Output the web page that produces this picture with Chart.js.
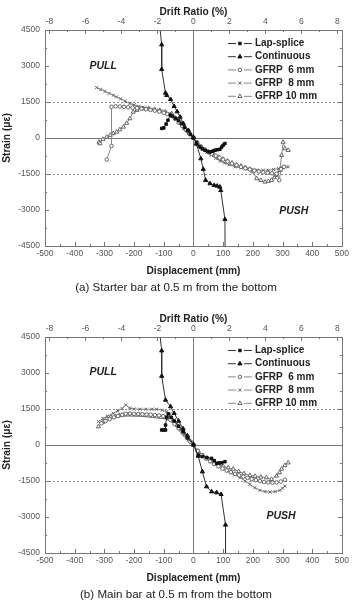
<!DOCTYPE html>
<html>
<head>
<meta charset="utf-8">
<script src="https://cdn.jsdelivr.net/npm/chart.js@4.4.1/dist/chart.umd.min.js"></script>
<style>
  body { margin: 0; background: #fff; font-family: Arial, "Liberation Sans", sans-serif; }
  .panel { position: relative; width: 352px; height: 307px; }
  .panel canvas { position: absolute; left: 0; top: 0; }
  .caption { position: absolute; left: 0; top: 279px; width: 352px; text-align: center;
             font-size: 11.6px; line-height: 15px; color: #222; }
</style>
</head>
<body>
<div class="panel">
  <canvas id="chartA" width="352" height="280"></canvas>
  <div class="caption">(a) Starter bar at 0.5 m from the bottom</div>
</div>
<div class="panel" style="height:306px">
  <canvas id="chartB" width="352" height="280"></canvas>
  <div class="caption">(b) Main bar at 0.5 m from the bottom</div>
</div>
<script>
// series labels
const seriesNames = ['Lap-splice', 'Continuous', 'GFRP  6 mm', 'GFRP  8 mm', 'GFRP 10 mm'];

// axis ticks
const dispTicks = [-500, -400, -300, -200, -100, 0, 100, 200, 300, 400, 500];
const driftTicks = [-8, -6, -4, -2, 0, 2, 4, 6, 8];
const strainTicks = [-4500, -3000, -1500, 0, 1500, 3000, 4500];

// (a) starter bar  -  [displacement mm, strain]
const lapA = [[-107,400],[-100,420],[-92,580],[-86,740],[-78,950],[-70,900],[-60,820],[-50,720],[-40,600],[-30,450],[-20,300],[-10,150],[0,0],
  [10,-200],[22,-370],[30,-450],[39,-510],[48,-560],[56,-580],[64,-550],[72,-510],[80,-490],[89,-470],[95,-380],[100,-300],[106,-230]];
const contA = [[-118,5200],[-107,3890],[-107,2860],[-94,1875],[-90,1780],[-77,1610],[-65,1320],[-55,1100],[-45,875],[-34,600],[-17,320],[0,40],
  [10,-250],[25,-860],[33,-1300],[41,-1760],[56,-1900],[70,-1970],[80,-2000],[89,-2040],[92,-2180],[106,-3390],[107,-6000]];
const g6A = [[-292,-900],[-276,-330],[-276,1300],[-262,1320],[-248,1310],[-234,1300],[-220,1280],[-205,1260],[-190,1240],[-175,1220],[-160,1200],
  [-145,1170],[-130,1140],[-115,1100],[-100,1050],[-88,1000],[-75,930],[-62,800],[-50,650],[-38,500],[-25,330],[-12,160],[0,0],
  [12,-180],[25,-350],[38,-480],[50,-580],[62,-660],[75,-740],[88,-820],[100,-900],[115,-980],[130,-1060],[145,-1130],[160,-1200],
  [175,-1260],[190,-1310],[205,-1360],[220,-1400],[235,-1430],[250,-1450],[265,-1470],[280,-1490],[289,-1760],[295,-1300],[305,-1200]];
const g8A = [[-326,2100],[-312,2020],[-298,1940],[-284,1860],[-270,1780],[-259,1710],[-245,1630],[-230,1540],[-214,1435],[-200,1380],[-185,1320],
  [-170,1280],[-155,1250],[-140,1210],[-125,1170],[-110,1130],[-95,1080],[-80,1020],[-69,950],[-56,800],[-45,650],[-30,420],[-15,200],[0,0],
  [16,-300],[30,-470],[45,-600],[60,-720],[75,-850],[90,-960],[105,-1040],[120,-1110],[140,-1200],[160,-1250],[180,-1290],[196,-1320],
  [215,-1335],[235,-1345],[252,-1345],[270,-1310],[286,-1275],[300,-1240],[319,-1200]];
const g10A = [[-318,-170],[-315,-230],[-305,-50],[-292,40],[-280,120],[-270,190],[-259,250],[-248,350],[-236,460],[-225,620],[-214,810],[-203,1085],
  [-190,1160],[-169,1225],[-150,1210],[-130,1180],[-113,1155],[-95,1090],[-73,1015],[-60,830],[-45,620],[-30,400],[-15,200],[0,0],
  [14,-220],[28,-400],[42,-520],[56,-620],[70,-700],[85,-800],[100,-880],[115,-960],[130,-1040],[145,-1110],[160,-1170],[175,-1230],
  [190,-1300],[200,-1400],[213,-1690],[227,-1760],[241,-1830],[252,-1800],[263,-1760],[272,-1650],[280,-1550],[291,-1345],[297,-720],
  [302,-170],[308,-440],[319,-510]];

// (b) main bar
const lapB = [[-107,625],[-100,625],[-94,625],[-94,830],[-90,1150],[-85,1300],[-75,1150],[-65,1000],[-50,780],[-35,550],[-20,300],[0,0],
  [16,-420],[30,-480],[45,-520],[61,-555],[70,-650],[78,-760],[86,-750],[95,-740],[106,-695]];
const contB = [[-118,5200],[-107,3930],[-107,2870],[-94,1875],[-77,1600],[-65,1320],[-50,1000],[-35,680],[-20,380],[0,30],
  [16,-460],[30,-1110],[44,-1735],[61,-1945],[78,-1985],[93,-2055],[108,-3330],[108,-6000]];
const g6B = [[-310,900],[-296,1000],[-282,1080],[-268,1150],[-254,1210],[-240,1260],[-228,1300],[-214,1310],[-200,1300],[-186,1290],[-172,1280],
  [-158,1270],[-144,1260],[-130,1250],[-116,1230],[-102,1200],[-90,1160],[-78,1050],[-64,880],[-50,700],[-36,500],[-22,300],[-10,140],[0,0],
  [14,-250],[28,-420],[42,-560],[56,-680],[70,-790],[84,-890],[98,-980],[112,-1060],[126,-1130],[140,-1200],[154,-1260],[168,-1320],
  [182,-1370],[196,-1420],[210,-1460],[224,-1500],[238,-1540],[252,-1560],[266,-1570],[280,-1560],[294,-1520],[308,-1450]];
const g8B = [[-320,975],[-305,1100],[-290,1200],[-270,1320],[-255,1420],[-240,1520],[-228,1670],[-215,1540],[-200,1500],[-180,1490],[-160,1490],
  [-140,1490],[-124,1490],[-105,1450],[-90,1390],[-79,1300],[-65,1050],[-50,800],[-35,550],[-20,310],[-8,120],[0,0],
  [14,-240],[28,-420],[42,-560],[56,-690],[70,-800],[84,-900],[98,-990],[112,-1080],[126,-1160],[140,-1240],[157,-1360],[174,-1500],
  [190,-1640],[207,-1780],[224,-1890],[241,-1940],[258,-1960],[275,-1940],[291,-1890],[300,-1800],[308,-1710]];
const g10B = [[-320,765],[-306,950],[-292,1115],[-278,1170],[-264,1200],[-250,1230],[-236,1250],[-222,1255],[-208,1255],[-194,1250],[-180,1250],
  [-166,1235],[-152,1215],[-138,1200],[-124,1180],[-110,1160],[-96,1140],[-82,1100],[-68,1000],[-55,820],[-42,630],[-28,420],[-14,210],[0,0],
  [16,-250],[32,-430],[48,-570],[66,-695],[84,-800],[100,-880],[117,-950],[134,-1000],[152,-1100],[170,-1190],[190,-1265],[208,-1300],
  [227,-1330],[246,-1360],[263,-1430],[280,-1290],[290,-1150],[297,-1000],[308,-850],[319,-740]];

const styles = [
  { pointStyle: 'rect', radius: 1.8, fill: '#111', stroke: '#111', line: '#333' },
  { pointStyle: 'triangle', radius: 2.4, fill: '#111', stroke: '#111', line: '#333' },
  { pointStyle: 'circle', radius: 1.8, fill: '#fff', stroke: '#666', line: '#888' },
  { pointStyle: 'crossRot', radius: 2.2, fill: '#fff', stroke: '#666', line: '#888' },
  { pointStyle: 'triangle', radius: 2.4, fill: '#fff', stroke: '#666', line: '#888' }
];

const toXY = (arr) => arr.map(p => ({ x: p[0], y: p[1] }));

const decor = {
  id: 'decor',
  beforeDatasetsDraw(chart) {
    const { ctx, chartArea: a, scales } = chart;
    ctx.save();
    ctx.strokeStyle = '#8a8a8a';
    ctx.lineWidth = 1;
    ctx.setLineDash([2, 2]);
    [1500, -1500].forEach(v => {
      const y = Math.round(scales.y.getPixelForValue(v)) + 0.5;
      ctx.beginPath(); ctx.moveTo(a.left, y); ctx.lineTo(a.right, y); ctx.stroke();
    });
    ctx.setLineDash([]);
    ctx.strokeStyle = '#777';
    const y0 = Math.round(scales.y.getPixelForValue(0)) + 0.5;
    const x0 = Math.round(scales.x.getPixelForValue(0)) + 0.5;
    ctx.beginPath(); ctx.moveTo(a.left, y0); ctx.lineTo(a.right, y0); ctx.stroke();
    ctx.beginPath(); ctx.moveTo(x0, a.top); ctx.lineTo(x0, a.bottom); ctx.stroke();
    ctx.restore();
  },
  afterDatasetsDraw(chart) {
    const { ctx, chartArea: a, scales } = chart;
    ctx.save();
    ctx.strokeStyle = '#777';
    ctx.lineWidth = 1;
    ctx.strokeRect(Math.round(a.left) + 0.5, Math.round(a.top) + 0.5,
                   Math.round(a.right - a.left), Math.round(a.bottom - a.top));
    ctx.beginPath();
    for (let v = -450; v <= 450; v += 50) {
      const x = Math.round(scales.x.getPixelForValue(v)) + 0.5;
      const len = v % 100 === 0 ? 4 : 2;
      ctx.moveTo(x, a.bottom); ctx.lineTo(x, a.bottom - len);
    }
    for (let v = -8; v <= 8; v += 1) {
      const x = Math.round(scales.x2.getPixelForValue(v)) + 0.5;
      const len = v % 2 === 0 ? 4 : 2;
      ctx.moveTo(x, a.top); ctx.lineTo(x, a.top + len);
    }
    for (let v = -3750; v <= 3750; v += 750) {
      const y = Math.round(scales.y.getPixelForValue(v)) + 0.5;
      const len = v % 1500 === 0 ? 4 : 2;
      ctx.moveTo(a.left, y); ctx.lineTo(a.left + len, y);
      ctx.moveTo(a.right, y); ctx.lineTo(a.right - len, y);
    }
    ctx.stroke();
    ctx.restore();
  },
  afterDraw(chart) {
    const { ctx, chartArea: a, scales } = chart;
    const opts = chart.options.plugins.decor;
    ctx.save();
    // legend
    ctx.font = 'bold 10px Arial, "Liberation Sans", sans-serif';
    ctx.textBaseline = 'middle';
    ctx.textAlign = 'left';
    seriesNames.forEach((name, i) => {
      const st = styles[i];
      const y = a.top + 13.5 + i * 13.2;
      const xm = a.right - 102;
      ctx.strokeStyle = st.line;
      ctx.lineWidth = 1;
      ctx.beginPath(); ctx.moveTo(xm - 12, y); ctx.lineTo(xm - 4, y);
      ctx.moveTo(xm + 4, y); ctx.lineTo(xm + 12, y); ctx.stroke();
      ctx.fillStyle = st.fill; ctx.strokeStyle = st.stroke;
      Chart.helpers.drawPoint(ctx, { pointStyle: st.pointStyle, radius: st.radius, borderWidth: 1, rotation: 0 }, xm, y);
      ctx.fillStyle = '#222';
      ctx.fillText(name, xm + 15, y);
    });
    // PULL / PUSH
    ctx.font = 'italic bold 10.5px Arial, "Liberation Sans", sans-serif';
    ctx.textAlign = 'center';
    ctx.fillStyle = '#222';
    ctx.fillText('PULL', scales.x.getPixelForValue(opts.pull[0]), scales.y.getPixelForValue(opts.pull[1]));
    ctx.fillText('PUSH', scales.x.getPixelForValue(opts.push[0]), scales.y.getPixelForValue(opts.push[1]));
    ctx.restore();
  }
};

const tickFont = { family: 'Arial, "Liberation Sans", sans-serif', size: 8.5 };
const titleFont = { family: 'Arial, "Liberation Sans", sans-serif', size: 10.2, weight: 'bold' };
const plainLabel = (v) => String(v);

function makeChart(id, series, pull, push) {
  const datasets = series.map((s, i) => ({
    label: seriesNames[i],
    data: toXY(s),
    showLine: true,
    borderColor: styles[i].line,
    borderWidth: 1,
    pointStyle: styles[i].pointStyle,
    pointRadius: styles[i].radius,
    pointBackgroundColor: styles[i].fill,
    pointBorderColor: styles[i].stroke,
    pointBorderWidth: 1
  }));
  return new Chart(document.getElementById(id), {
    type: 'scatter',
    data: { datasets },
    plugins: [decor],
    options: {
      responsive: false,
      animation: false,
      devicePixelRatio: 1,
      layout: { padding: { right: 10, left: 0, top: 0, bottom: 0 } },
      plugins: {
        legend: { display: false },
        tooltip: { enabled: false },
        decor: { pull, push }
      },
      scales: {
        x: {
          type: 'linear', position: 'bottom', min: -500, max: 500,
          afterBuildTicks: (sc) => { sc.ticks = dispTicks.map(v => ({ value: v })); },
          afterFit: (sc) => { sc.height = 34; },
          grid: { display: false, drawTicks: false }, border: { display: false },
          ticks: { font: tickFont, color: '#555', padding: 3, maxRotation: 0, callback: plainLabel },
          title: { display: true, text: 'Displacement (mm)', font: titleFont, color: '#222', padding: { top: 0, bottom: 3 } }
        },
        x2: {
          type: 'linear', position: 'top', min: -8.25, max: 8.25,
          afterBuildTicks: (sc) => { sc.ticks = driftTicks.map(v => ({ value: v })); },
          afterFit: (sc) => { sc.height = 30; },
          grid: { display: false, drawTicks: false }, border: { display: false },
          ticks: { font: tickFont, color: '#555', padding: 3, maxRotation: 0, callback: plainLabel },
          title: { display: true, text: 'Drift Ratio (%)', font: titleFont, color: '#222', padding: { top: 6, bottom: 0 } }
        },
        y: {
          type: 'linear', position: 'left', min: -4500, max: 4500,
          afterBuildTicks: (sc) => { sc.ticks = strainTicks.map(v => ({ value: v })); },
          afterFit: (sc) => { sc.width = 45; },
          grid: { display: false, drawTicks: false }, border: { display: false },
          ticks: { font: tickFont, color: '#555', padding: 5, callback: plainLabel },
          title: { display: true, text: 'Strain (με)', font: titleFont, color: '#222', padding: { top: 1, bottom: 0 } }
        }
      }
    }
  });
}

makeChart('chartA', [lapA, contA, g6A, g8A, g10A], [-304, 3000], [338, -3050]);
makeChart('chartB', [lapB, contB, g6B, g8B, g10B], [-304, 3030], [295, -2960]);
</script>
</body>
</html>
